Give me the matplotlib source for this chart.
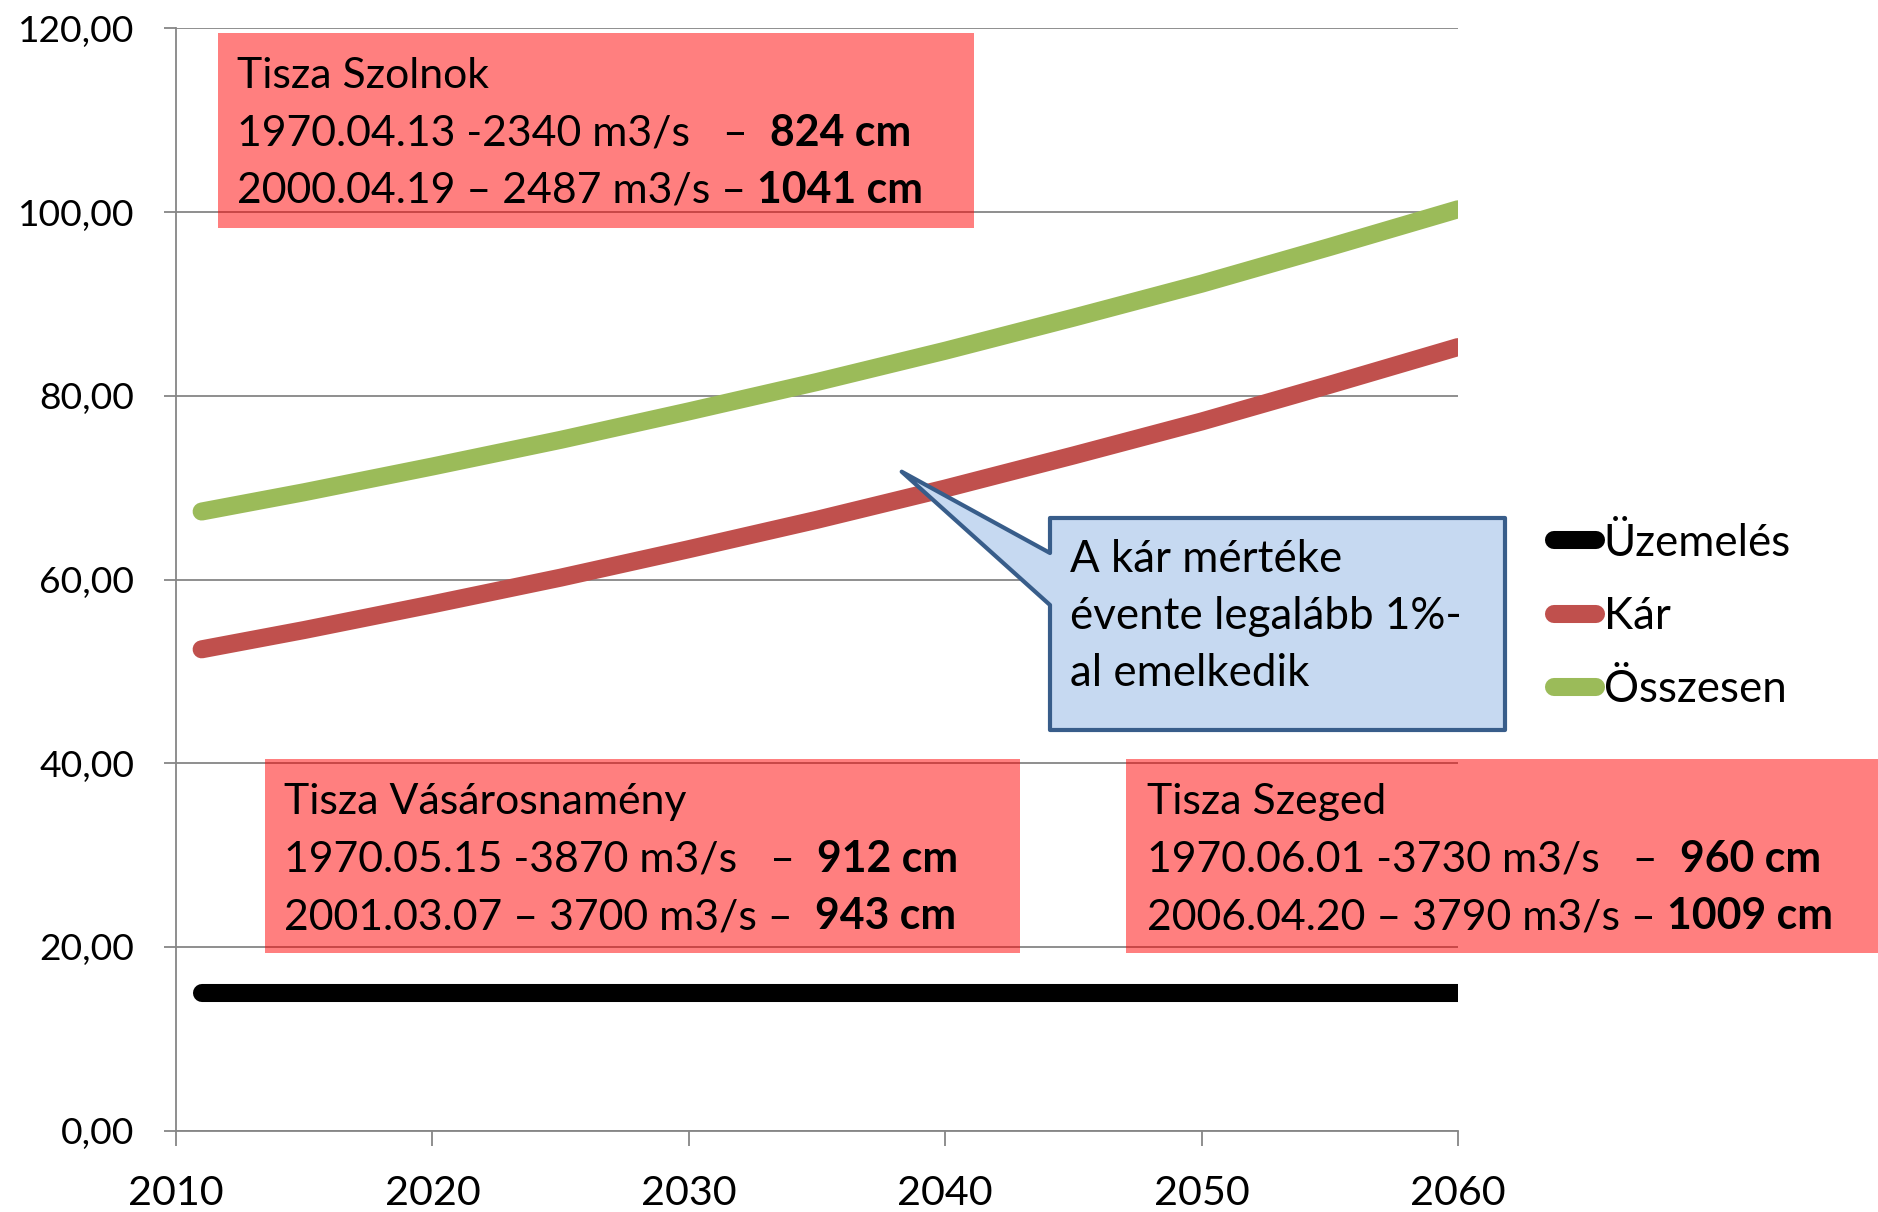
import matplotlib
matplotlib.use('Agg')
import matplotlib.pyplot as plt
from matplotlib.patches import Rectangle, Polygon

# ---------------- data ----------------
years = [2011, 2015, 2020, 2025, 2030, 2035, 2040, 2045, 2050, 2055, 2060]
uzemeles = [15.0, 15.0, 15.0, 15.0, 15.0, 15.0, 15.0, 15.0, 15.0, 15.0, 15.0]
kar = [52.4, 54.5, 57.3, 60.2, 63.3, 66.5, 69.9, 73.5, 77.2, 81.2, 85.3]
osszesen = [67.4, 69.5, 72.3, 75.2, 78.3, 81.5, 84.9, 88.5, 92.2, 96.2, 100.3]
series_names = ['Üzemelés', 'Kár', 'Összesen']
series_colors = ['#000000', '#C0504D', '#9BBB59']
x_ticks = [2010, 2020, 2030, 2040, 2050, 2060]
y_ticks = [0, 20, 40, 60, 80, 100, 120]
y_tick_labels = ['0,00', '20,00', '40,00', '60,00', '80,00', '100,00', '120,00']

box_szolnok = [("Tisza Szolnok", None),
               ("1970.04.13 -2340 m3/s   \u2013  ", "824 cm"),
               ("2000.04.19 \u2013 2487 m3/s \u2013 ", "1041 cm")]
box_vasaros = [("Tisza Vásárosnamény", None),
               ("1970.05.15 -3870 m3/s   \u2013  ", "912 cm"),
               ("2001.03.07 \u2013 3700 m3/s \u2013  ", "943 cm")]
box_szeged = [("Tisza Szeged", None),
              ("1970.06.01 -3730 m3/s   \u2013  ", "960 cm"),
              ("2006.04.20 \u2013 3790 m3/s \u2013 ", "1009 cm")]
callout_lines = ["A kár mértéke", "évente legalább 1%-", "al emelkedik"]

# ---------------- figure ----------------
W, H = 1878, 1212
plt.rcParams['font.family'] = ['Lato', 'DejaVu Sans']
fig = plt.figure(figsize=(W / 100, H / 100), dpi=100)


def fx(px):
    return px / W


def fy(py):
    return 1 - py / H


AX_L, AX_R, AX_T, AX_B = 176, 1458, 28.3, 1130.7
ax = fig.add_axes([fx(AX_L), fy(AX_B), (AX_R - AX_L) / W, (AX_B - AX_T) / H])
ax.set_xlim(2010, 2060)
ax.set_ylim(0, 120)

grey = '#868686'
ax.set_yticks(y_ticks)
ax.set_yticklabels(y_tick_labels)
ax.set_xticks(x_ticks)
ax.set_xticklabels([str(v) for v in x_ticks])
ax.yaxis.grid(True, color=grey, lw=1.3)
ax.set_axisbelow(True)
for s in ['top', 'right']:
    ax.spines[s].set_visible(False)
for s in ['left', 'bottom']:
    ax.spines[s].set_color(grey)
    ax.spines[s].set_linewidth(1.3)
ax.tick_params(axis='y', length=9, width=1.3, color=grey, labelsize=26.8, pad=21)
ax.tick_params(axis='x', length=11, width=1.3, color=grey, labelsize=29.7, pad=21)

lines = []
for vals, name, col in zip([uzemeles, kar, osszesen], series_names, series_colors):
    ln, = ax.plot(years, vals, color=col, lw=13, solid_capstyle='round', label=name)
    lines.append(ln)

ax.legend(handles=lines, labels=series_names, loc='center left',
          bbox_to_anchor=(fx(1554), fy(616.5)), bbox_transform=fig.transFigure,
          frameon=False, fontsize=31.6, handlelength=0.95, handletextpad=0.18,
          labelspacing=0.74, borderpad=0, borderaxespad=0)

# ---------------- red boxes ----------------
def add_box(x0, y0, x1, y1):
    r = Rectangle((fx(x0), fy(y1)), (x1 - x0) / W, (y1 - y0) / H,
                  transform=fig.transFigure, facecolor=(1, 0, 0, 0.5),
                  edgecolor='none', zorder=3)
    fig.add_artist(r)


add_box(218, 33.5, 974, 227.6)
add_box(265, 759, 1020, 953)
add_box(1126, 759, 1878, 953)

renderer = fig.canvas.get_renderer()
TXT = 30.8
CALL = 31.6


def text_width(s, weight, size):
    t1 = fig.text(0, 0, s + 'x', fontsize=size, fontweight=weight)
    t2 = fig.text(0, 0, 'x', fontsize=size, fontweight=weight)
    w = t1.get_window_extent(renderer).width - t2.get_window_extent(renderer).width
    t1.remove()
    t2.remove()
    return w


def box_text(x_px, baselines, rows):
    for base, (reg, bold) in zip(baselines, rows):
        fig.text(fx(x_px), fy(base), reg, fontsize=TXT, va='baseline', ha='left', zorder=5)
        if bold:
            w = text_width(reg, 'normal', TXT)
            fig.text(fx(x_px + w), fy(base), bold, fontsize=TXT, fontweight='bold',
                     va='baseline', ha='left', zorder=5)


box_text(237, [88.4, 145.8, 202.8], box_szolnok)
box_text(284, [814, 871.5, 929], box_vasaros)
box_text(1147, [814, 871.5, 929], box_szeged)

# ---------------- callout ----------------
pts_px = [(1050, 518), (1505, 518), (1505, 730), (1050, 730), (1050, 605),
          (901.7, 471.7), (1050, 553)]
poly = Polygon([(fx(x), fy(y)) for x, y in pts_px], closed=True,
               transform=fig.transFigure, facecolor='#C6D9F1', edgecolor='#385D8A',
               lw=3, joinstyle='round', zorder=4)
fig.add_artist(poly)
for base, s in zip([572, 629, 686], callout_lines):
    fig.text(fx(1070), fy(base), s, fontsize=CALL, va='baseline', ha='left', zorder=6)

fig.savefig('out.png', dpi=100)
